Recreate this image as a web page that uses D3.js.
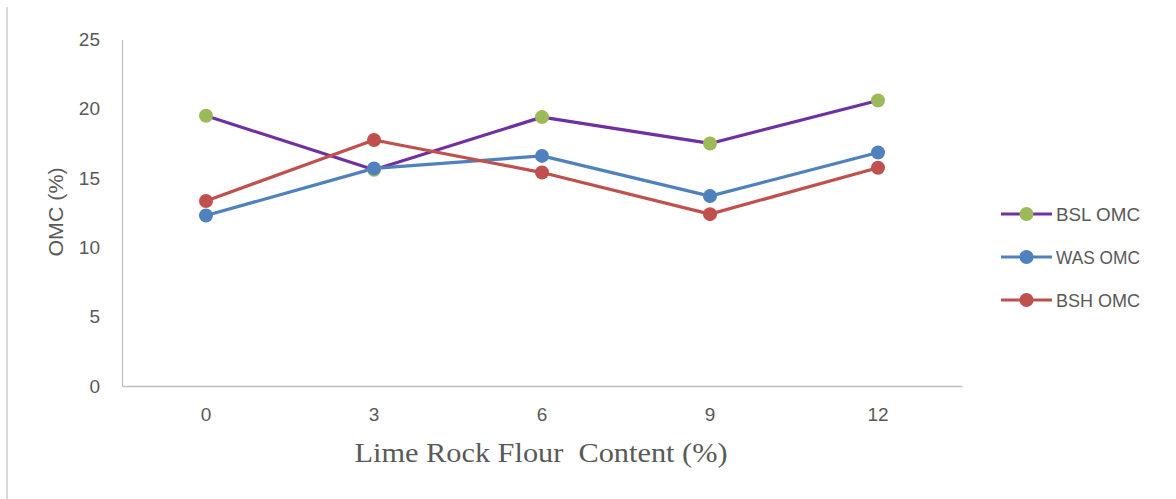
<!DOCTYPE html>
<html>
<head>
<meta charset="utf-8">
<script src="https://cdn.jsdelivr.net/npm/d3@7"></script>
<style>
  html, body { margin: 0; padding: 0; background: #fff; }
  svg { display: block; }
</style>
</head>
<body>
<svg id="chart" width="1176" height="499"></svg>
<script>
const categories = ["0", "3", "6", "9", "12"];
const yTicks = [0, 5, 10, 15, 20, 25];
const bslOMC = [19.5, 15.6, 19.4, 17.5, 20.6];
const wasOMC = [12.3, 15.7, 16.6, 13.7, 16.85];
const bshOMC = [13.35, 17.75, 15.4, 12.4, 15.75];

const series = [
  { name: "BSL OMC", values: bslOMC, line: "#7030A0", marker: "#9BBB59" },
  { name: "WAS OMC", values: wasOMC, line: "#4F81BD", marker: "#4F81BD" },
  { name: "BSH OMC", values: bshOMC, line: "#C0504D", marker: "#C0504D" }
];

(function () {
const svg = d3.select("#chart");
const mLeft = 122, mRight = 962, mTop = 39.5, mBottom = 386;
const textColor = "#595959";

// outer frame left edge
svg.append("line").attr("x1", 7).attr("x2", 7).attr("y1", 7).attr("y2", 499)
  .attr("stroke", "#d9d9d9").attr("stroke-width", 2);

const x = d3.scaleBand().domain(categories).range([mLeft, mRight]);
const y = d3.scaleLinear().domain([0, 25]).range([mBottom, mTop]);

// y axis
const yAxis = svg.append("g").attr("transform", `translate(${mLeft},0)`)
  .call(d3.axisLeft(y).tickValues(yTicks).tickSize(0).tickPadding(22));
yAxis.select(".domain").attr("stroke", "#bfbfbf").attr("stroke-width", 1.3);
yAxis.selectAll("text").attr("fill", textColor)
  .style("font-family", "'Liberation Sans', Arial, sans-serif").style("font-size", "19px");

// x axis
const xAxis = svg.append("g").attr("transform", `translate(0,${mBottom})`)
  .call(d3.axisBottom(x).tickSize(0).tickPadding(22));
xAxis.select(".domain").attr("stroke", "#bfbfbf").attr("stroke-width", 1.3);
xAxis.selectAll("text").attr("fill", textColor)
  .style("font-family", "'Liberation Sans', Arial, sans-serif").style("font-size", "19px");

// axis titles
svg.append("text")
  .attr("transform", "translate(63,212) rotate(-90)")
  .attr("text-anchor", "middle")
  .attr("fill", textColor)
  .attr("textLength", 89).attr("lengthAdjust", "spacingAndGlyphs")
  .style("font-family", "'Liberation Sans', Arial, sans-serif").style("font-size", "20px")
  .text("OMC (%)");

svg.append("text")
  .attr("x", 541).attr("y", 462)
  .attr("text-anchor", "middle")
  .attr("fill", textColor)
  .attr("textLength", 373).attr("lengthAdjust", "spacingAndGlyphs")
  .style("font-family", "'Liberation Serif', 'Times New Roman', serif").style("font-size", "28px")
  .style("white-space", "pre")
  .text("Lime Rock Flour  Content (%)");

const cx = d => x(d) + x.bandwidth() / 2;
const lineGen = d3.line().x((d, i) => cx(categories[i])).y(d => y(d));

series.forEach(s => {
  svg.append("path").datum(s.values)
    .attr("d", lineGen).attr("fill", "none")
    .attr("stroke", s.line).attr("stroke-width", 3.2).attr("stroke-linejoin", "round");
});
series.forEach(s => {
  svg.append("g").selectAll("circle").data(s.values).join("circle")
    .attr("cx", (d, i) => cx(categories[i])).attr("cy", d => y(d))
    .attr("r", 7).attr("fill", s.marker);
});

// legend
const legY = [214, 257, 300];
series.forEach((s, i) => {
  const g = svg.append("g").attr("transform", `translate(0,${legY[i]})`);
  g.append("line").attr("x1", 1001).attr("x2", 1052).attr("y1", 0).attr("y2", 0)
    .attr("stroke", s.line).attr("stroke-width", 3.2);
  g.append("circle").attr("cx", 1026.5).attr("cy", 0).attr("r", 7).attr("fill", s.marker);
  g.append("text").attr("x", 1056).attr("y", 6.5)
    .attr("fill", textColor)
    .attr("textLength", 84).attr("lengthAdjust", "spacingAndGlyphs")
    .style("font-family", "'Liberation Sans', Arial, sans-serif").style("font-size", "19px")
    .text(s.name);
});
})();
</script>
</body>
</html>
